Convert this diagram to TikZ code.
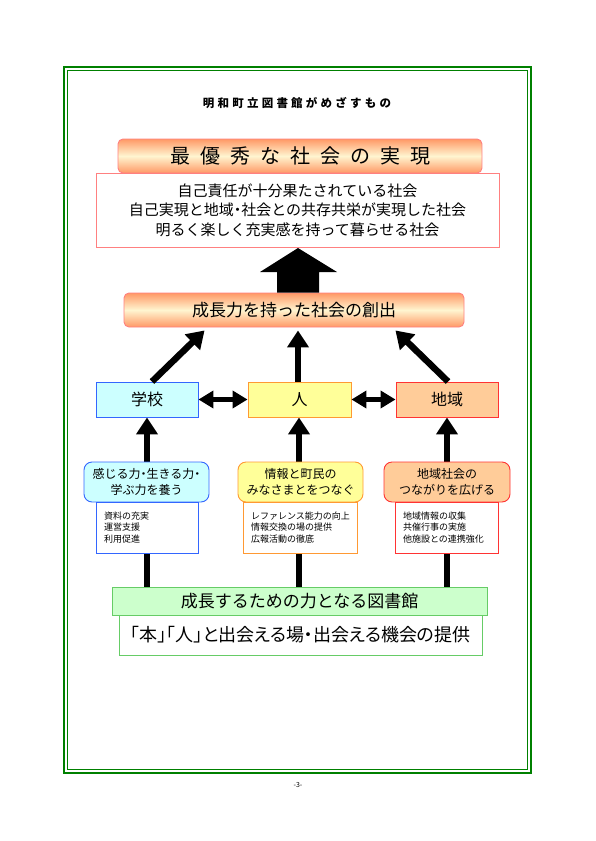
\documentclass[tikz,border=0pt]{standalone}
\usepackage{fontspec}
\setmainfont{Noto Sans CJK JP}
\newfontfamily\jpsp[LetterSpace=50]{Noto Sans CJK JP}
\newfontfamily\jptitle[LetterSpace=28]{Noto Sans CJK JP}
\newfontfamily\jpprop[RawFeature=+palt]{Noto Sans CJK JP}
\newcommand\ndot{\makebox[0.5em]{・}}
\usetikzlibrary{arrows.meta,backgrounds,calc}
\definecolor{frame}{HTML}{008000}
\definecolor{salmon}{HTML}{FF9966}
\definecolor{cream}{HTML}{FFF5D0}
\definecolor{pinkline}{HTML}{FF8080}
\definecolor{bluel}{HTML}{3366FF}
\definecolor{cyanf}{HTML}{CCFFFF}
\definecolor{yelf}{HTML}{FFFF99}
\definecolor{orgl}{HTML}{FF9933}
\definecolor{peachf}{HTML}{FFCC99}
\definecolor{redl}{HTML}{FF3333}
\definecolor{greenf}{HTML}{CCFFCC}
\definecolor{greenl}{HTML}{66CC66}
\begin{document}
\begin{tikzpicture}[x=1pt,y=-1pt,
  box/.style={draw, line width=0.9pt, inner sep=0pt, align=center},
  grad/.style={box, draw=pinkline, rounded corners=5pt, top color=salmon, bottom color=salmon, middle color=cream},
  rowbox/.style={box, minimum width=102pt, minimum height=35pt, font=\fontsize{16}{19}\selectfont},
  subhead/.style={box, rounded corners=8pt, minimum width=125pt, minimum height=40pt, font=\fontsize{12}{16}\selectfont},
  listbox/.style={box, fill=white, minimum height=51pt, align=left, inner xsep=8pt, font=\fontsize{9}{11.5}\selectfont},
  bigarrow/.style={line width=6.5pt, -{Triangle[length=17pt,width=21pt]}},
  dblarrow/.style={line width=5pt, {Triangle[length=15pt,width=17pt]}-{Triangle[length=15pt,width=17pt]}}]
\useasboundingbox (0,0) rectangle (595,841);
% frame
\draw[frame, line width=1.6pt] (64,67) rectangle (531,773);
\draw[frame, line width=0.9pt] (67.5,70.5) rectangle (527.5,769.5);
% title
\node (title) at (297,103) {\jptitle\bfseries\fontsize{11.5}{14}\selectfont 明和町立図書館がめざすもの};
% top heading
\node[grad, minimum width=364pt, minimum height=34pt] (head) at (300,156)
  {\jpsp\fontsize{20}{24}\selectfont 最優秀な社会の実現};
\node[box, draw=pinkline, fill=white, minimum width=403pt, minimum height=74pt,
  font=\fontsize{15}{19.5}\selectfont] (goal) at (297.5,210)
  {自己責任が十分果たされている社会\\自己実現と地域\ndot 社会との共存共栄が実現した社会\\明るく楽しく充実感を持って暮らせる社会};
% big arrow
\node[grad, minimum width=340pt, minimum height=34pt, font=\fontsize{17}{20}\selectfont] (create) at (294,310) {成長力を持った社会の創出};
\fill (create.north -| 277,0) -- (277,272) -- (260,272) -- (298,248) -- (337,272) -- (319,272) -- (create.north -| 319,0) -- cycle;
% row boxes
\node[rowbox, draw=bluel, fill=cyanf] (school) at (147,399.5) {学校};
\node[rowbox, draw=orgl, fill=yelf, minimum width=103pt] (person) at (299.5,399.5) {人};
\node[rowbox, draw=redl, fill=peachf] (area) at (447,399.5) {地域};
% sub headings
\node[subhead, draw=bluel, fill=cyanf] (s1) at (146.5,482) {感じる力\ndot 生きる力\ndot\\学ぶ力を養う};
\node[subhead, draw=orgl, fill=yelf] (s2) at (300.5,482) {情報と町民の\\みなさまとをつなぐ};
\node[subhead, draw=redl, fill=peachf, minimum width=126pt] (s3) at (447,482) {地域社会の\\つながりを広げる};
% list boxes
\node[listbox, draw=bluel, text width=86pt] (l1) at (147,527.5) {資料の充実\\運営支援\\利用促進};
\node[listbox, draw=orgl, text width=98pt] (l2) at (300,527.5) {レファレンス能力の向上\\情報交換の場の提供\\広報活動の徹底};
\node[listbox, draw=redl, text width=87pt] (l3) at (446.5,527.5) {地域情報の収集\\共催行事の実施\\他施設との連携強化};
% library boxes
\node[box, draw=greenl, fill=greenf, minimum width=375pt, minimum height=28pt, font=\fontsize{17}{20}\selectfont] (lib) at (299.5,601) {成長するための力となる図書館};
\node[box, draw=greenl, fill=white, minimum width=363pt, minimum height=40pt] (offer) at (300.5,635) {\jpprop\fontsize{18}{22}\selectfont 「本」「人」と出会える場\ndot 出会える機会の提供};
% page number
\node[font=\fontsize{7}{8}\selectfont] (page) at (298,785) {-3-};
% arrows
\draw[bigarrow] ([xshift=5pt]school.north) -- ([xshift=81pt,yshift=-3pt]create.south west);
\draw[bigarrow] ([xshift=-1.5pt]person.north) -- ([xshift=-1.5pt,yshift=-3pt]create.south -| person.north);
\draw[bigarrow] ([xshift=1pt]area.north) -- ([xshift=-69pt,yshift=-3pt]create.south east);
\draw[dblarrow] (school.east) -- (person.west);
\draw[dblarrow] (person.east) -- (area.west);
\begin{scope}[on background layer]
\draw[bigarrow] (school.south |- lib.north) -- (school.south);
\draw[bigarrow] ([xshift=-0.5pt]person.south |- lib.north) -- ([xshift=-0.5pt]person.south);
\draw[bigarrow] (area.south |- lib.north) -- (area.south);
\end{scope}
\end{tikzpicture}
\end{document}
